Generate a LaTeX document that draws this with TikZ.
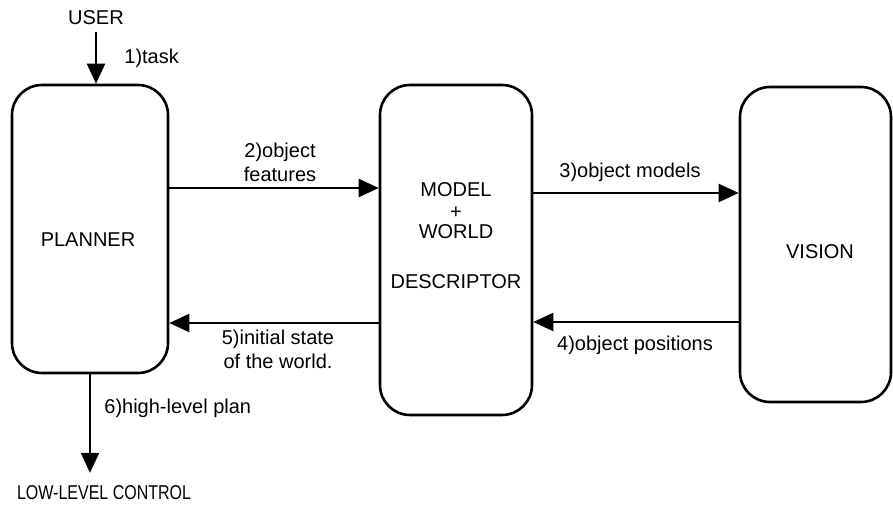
\documentclass[tikz,border=0pt]{standalone}
\usepackage{fontspec}
\setmainfont{Liberation Sans}
\newfontfamily\narrowfont[FakeStretch=0.8]{Liberation Sans}
\usetikzlibrary{arrows.meta}

\begin{document}
\begin{tikzpicture}[x=0.5pt,y=-0.5pt,
    font=\fontsize{10}{12}\selectfont,
    block/.style={draw,line width=1.3pt,rounded corners=15pt,inner sep=0pt},
    flow/.style={line width=1.1pt,-{Triangle[length=10pt,width=9pt]}},
    lbl/.style={inner sep=1pt,align=center}]
    % Fix the page size
    \useasboundingbox (0,0) rectangle (893,506);

    % Draw the three boxes
    \node [block,minimum width=78pt,minimum height=144pt] (planner) at (90,229) {};
    \node [block,minimum width=76pt,minimum height=165pt] (model) at (456,250) {};
    \node [block,minimum width=75.5pt,minimum height=157.5pt] (vision) at (815.5,244.5) {};

    % Texts inside the boxes
    \node (plannertxt) at (88,240) {PLANNER};
    \node (modeltxt) at (456,190) {MODEL};
    \node (plustxt) at (456,213) {+};
    \node (worldtxt) at (456,232) {WORLD};
    \node (descrtxt) at (456,282) {DESCRIPTOR};
    \node (visiontxt) at (820,252) {VISION};

    % Outside ends
    \node (user) at (96,18) {USER};
    \node (llc) [anchor=west] at (10,493) {\narrowfont LOW-LEVEL CONTROL};

    % Rows of the horizontal arrows
    \coordinate (row2) at (0,188);
    \coordinate (row3) at (0,193);
    \coordinate (row4) at (0,322);
    \coordinate (row5) at (0,323);

    % Connect the boxes
    \draw [flow] (user.south) -- (user.south |- planner.north);
    \draw [flow] (planner.east |- row2) -- (model.west |- row2);
    \draw [flow] (model.east |- row3) -- (vision.west |- row3);
    \draw [flow] (vision.west |- row4) -- (model.east |- row4);
    \draw [flow] (model.west |- row5) -- (planner.east |- row5);
    \draw [flow] (planner.south) -- ([yshift=3pt]planner.south |- llc.north);

    % Labels of the arrows
    \node [lbl,anchor=west] (task) at (122,58) {1)task};
    \node [lbl] (feat) at (280,162) {2)object\\ features};
    \node [lbl] (models) at (630,172) {3)object models};
    \node [lbl] (positions) at (635,345) {4)object positions};
    \node [lbl] (state) at (278,349) {5)initial state\\ of the world.};
    \node [lbl,anchor=west] (plan) at (102,408) {6)high-level plan};
\end{tikzpicture}
\end{document}
